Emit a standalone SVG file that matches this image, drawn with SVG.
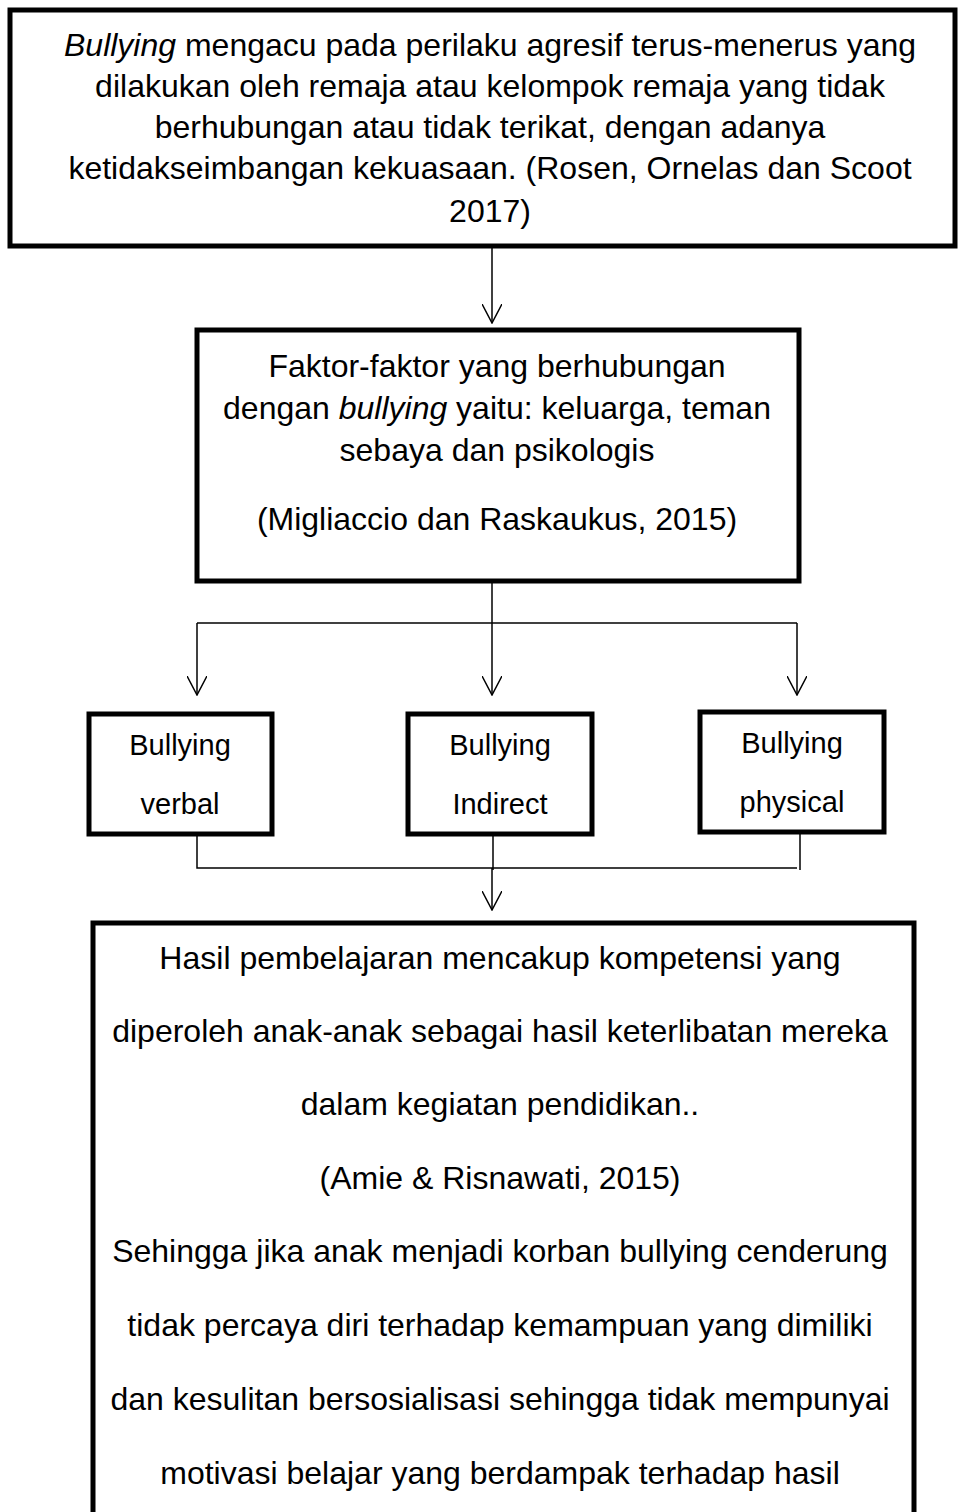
<svg xmlns="http://www.w3.org/2000/svg" width="960" height="1512" viewBox="0 0 960 1512">
<style>
.box{fill:#fff;stroke:#000;stroke-width:5}
.t{font-family:"Liberation Sans",Arial,sans-serif;font-size:32px;fill:#000;text-anchor:middle}
.s{font-size:29px}
.c{fill:none;stroke:#000;stroke-width:1.5}
</style>
<defs>
<marker id="ah" viewBox="0 0 20 20" refX="19" refY="10" markerWidth="20" markerHeight="20" markerUnits="userSpaceOnUse" orient="auto">
<path d="M0,0 L19,10 L0,20" fill="none" stroke="#000" stroke-width="1.5"/>
</marker>
</defs>
<g id="n1">
<rect class="box" x="10" y="10" width="945" height="236"/>
<text class="t" x="490" y="56"><tspan font-style="italic">Bullying</tspan> mengacu pada perilaku agresif terus-menerus yang</text>
<text class="t" x="490" y="97">dilakukan oleh remaja atau kelompok remaja yang tidak</text>
<text class="t" x="490" y="138">berhubungan atau tidak terikat, dengan adanya</text>
<text class="t" x="490" y="179">ketidakseimbangan kekuasaan. (Rosen, Ornelas dan Scoot</text>
<text class="t" x="490" y="222">2017)</text>
</g>
<g id="n2">
<rect class="box" x="197" y="330" width="602" height="251"/>
<text class="t" x="497" y="377">Faktor-faktor yang berhubungan</text>
<text class="t" x="497" y="419">dengan <tspan font-style="italic">bullying</tspan> yaitu: keluarga, teman</text>
<text class="t" x="497" y="461">sebaya dan psikologis</text>
<text class="t" x="497" y="530">(Migliaccio dan Raskaukus, 2015)</text>
</g>
<g id="n3">
<rect class="box" x="89" y="714" width="183" height="120"/>
<text class="t s" x="180" y="755">Bullying</text>
<text class="t s" x="180" y="814">verbal</text>
</g>
<g id="n4">
<rect class="box" x="408" y="714" width="184" height="120"/>
<text class="t s" x="500" y="755">Bullying</text>
<text class="t s" x="500" y="814">Indirect</text>
</g>
<g id="n5">
<rect class="box" x="700" y="712" width="184" height="120"/>
<text class="t s" x="792" y="753">Bullying</text>
<text class="t s" x="792" y="812">physical</text>
</g>
<g id="n6">
<rect class="box" x="93" y="923" width="821" height="620"/>
<text class="t" x="500" y="969">Hasil pembelajaran mencakup kompetensi yang</text>
<text class="t" x="500" y="1042">diperoleh anak-anak sebagai hasil keterlibatan mereka</text>
<text class="t" x="500" y="1115">dalam kegiatan pendidikan..</text>
<text class="t" x="500" y="1189">(Amie &amp; Risnawati, 2015)</text>
<text class="t" x="500" y="1262">Sehingga jika anak menjadi korban bullying cenderung</text>
<text class="t" x="500" y="1336">tidak percaya diri terhadap kemampuan yang dimiliki</text>
<text class="t" x="500" y="1410">dan kesulitan bersosialisasi sehingga tidak mempunyai</text>
<text class="t" x="500" y="1484">motivasi belajar yang berdampak terhadap hasil</text>
</g>
<g id="connectors">
<path class="c" d="M492,248 V323" marker-end="url(#ah)"/>
<path class="c" d="M492,583 V623"/>
<path class="c" d="M197,623 H797"/>
<path class="c" d="M197,623 V695" marker-end="url(#ah)"/>
<path class="c" d="M492,623 V695" marker-end="url(#ah)"/>
<path class="c" d="M797,623 V695" marker-end="url(#ah)"/>
<path class="c" d="M197,836 V868 H797"/>
<path class="c" d="M800,834 V870"/>
<path class="c" d="M493,836 V870"/>
<path class="c" d="M492,868 V910" marker-end="url(#ah)"/>
</g>
</svg>
